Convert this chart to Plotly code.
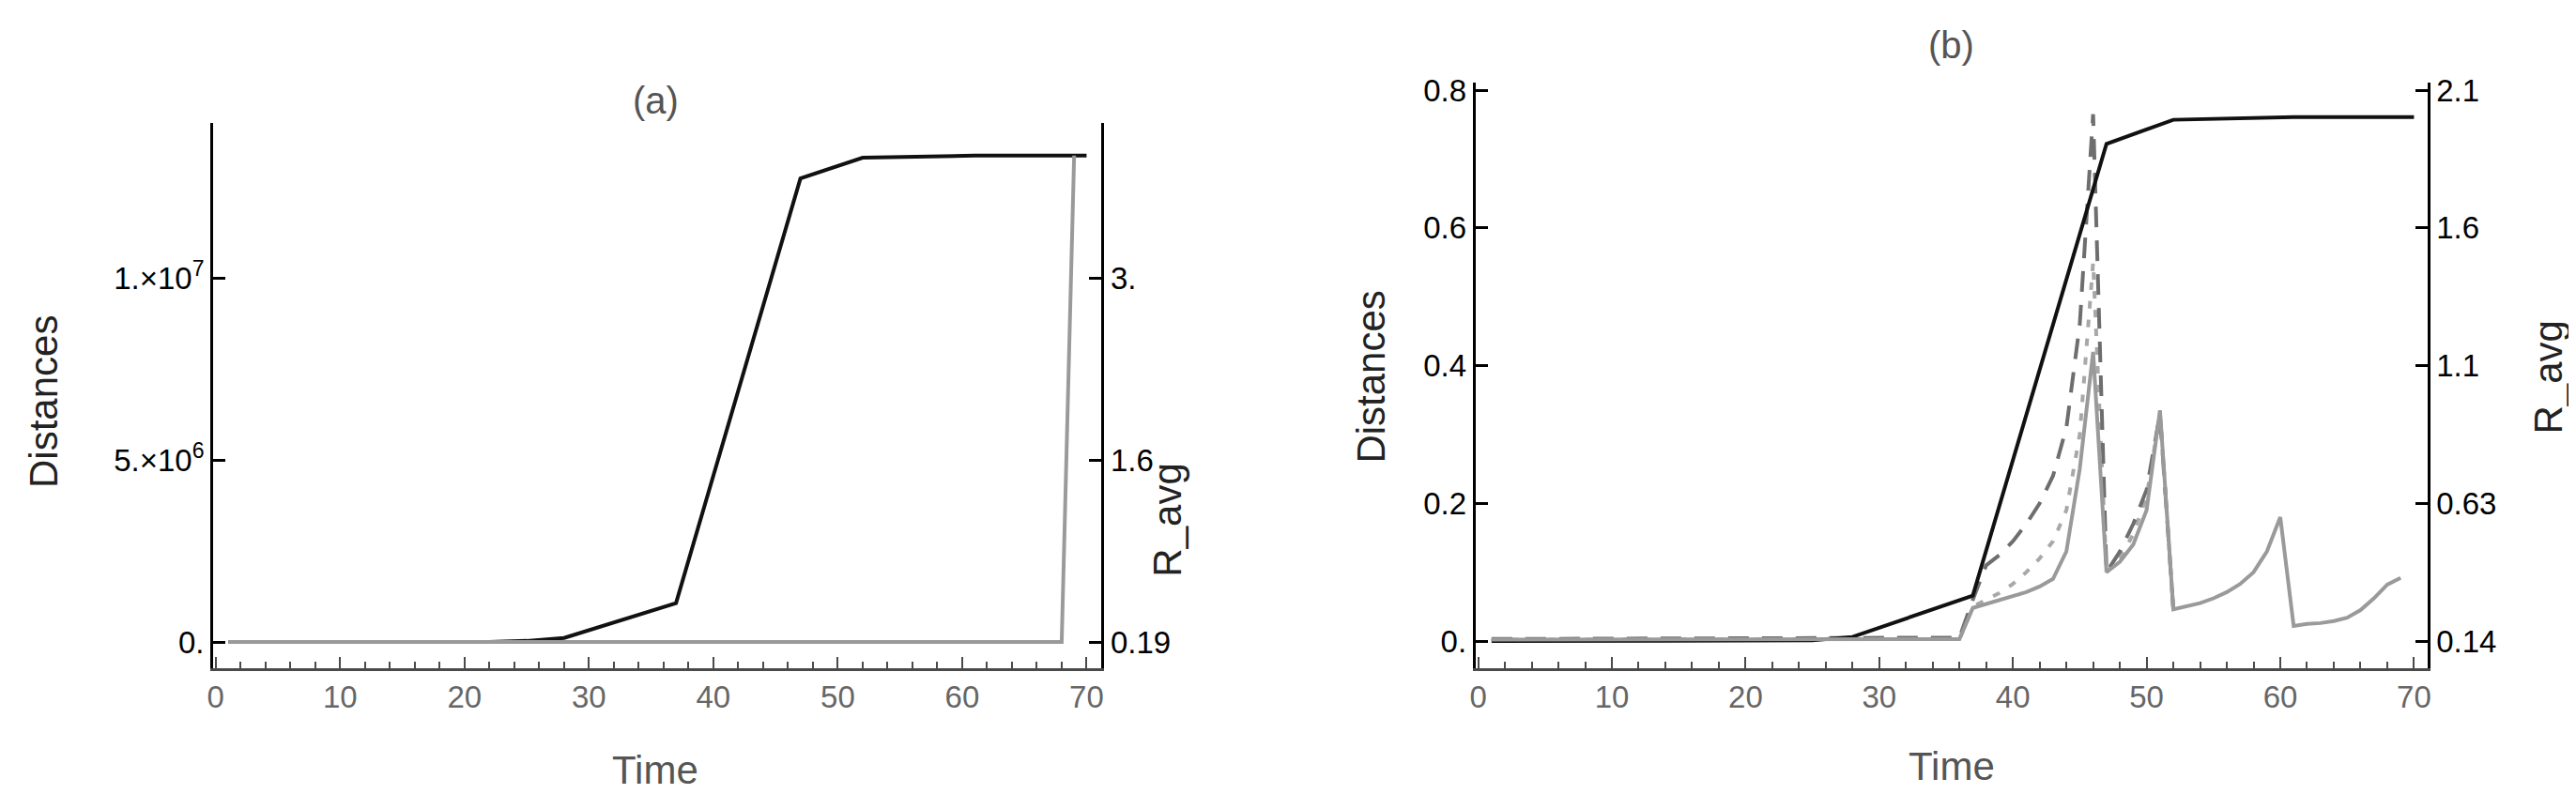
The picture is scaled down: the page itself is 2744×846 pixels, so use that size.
import plotly.graph_objects as go

W, H = 2744, 846
FONT = "Liberation Sans, Arial, sans-serif"

# ---------------- panel (a) ----------------
a_black_t = [1, 22, 25, 28, 37, 47, 52, 61, 70]
a_black_d = [0, 0, 3e4, 1.1e5, 1.07e6, 1.275e7, 1.332e7, 1.338e7, 1.338e7]

a_dash_t = [1, 68]
a_longdash_d = [0, 0]
a_shortdash_d = [0, 0]

a_ravg_t = [1, 68, 69]
a_ravg = [0.19, 0.19, 3.95]

# ---------------- panel (b) ----------------
b_black_t = [1, 25, 28, 37, 47, 52, 61, 70]
b_black_d = [0.0, 0.001, 0.006, 0.066, 0.722, 0.757, 0.761, 0.761]

b_dash_t = [1, 20, 33, 36, 37, 38, 39, 40, 41, 42, 43, 44, 45, 46, 47, 48, 49, 50, 51, 52]
b_longdash_d = [0.003, 0.004, 0.006, 0.005, 0.06, 0.11, 0.125, 0.145, 0.17, 0.2,
                0.24, 0.31, 0.46, 0.765, 0.1, 0.13, 0.17, 0.22, 0.33, 0.046]
b_shortdash_d = [0.002, 0.002, 0.003, 0.003, 0.05, 0.06, 0.07, 0.083, 0.1, 0.12,
                 0.145, 0.19, 0.3, 0.55, 0.1, 0.12, 0.155, 0.21, 0.33, 0.046]

b_ravg_t = [1, 36, 37, 38, 39, 40, 41, 42, 43, 44, 45, 46, 47, 48, 49, 50, 51, 52,
            53, 54, 55, 56, 57, 58, 59, 60, 61, 62, 63, 64, 65, 66, 67, 68, 69]
b_ravg = [0.145, 0.147, 0.258, 0.272, 0.285, 0.297, 0.314, 0.334, 0.361, 0.459,
          0.753, 1.169, 0.385, 0.422, 0.483, 0.606, 0.961, 0.253, 0.263, 0.275,
          0.292, 0.314, 0.343, 0.385, 0.459, 0.581, 0.194, 0.201, 0.204, 0.211,
          0.223, 0.250, 0.292, 0.341, 0.365]

# tick labels
x_ticks = [0, 10, 20, 30, 40, 50, 60, 70]
a_left_ticks = [0, 5e6, 1e7]
a_left_text = ["0.", "5.×10<sup>6</sup>", "1.×10<sup>7</sup>"]
a_right_ticks = [0.19, 1.595, 3.0]
a_right_text = ["0.19", "1.6", "3."]
b_left_ticks = [0, 0.2, 0.4, 0.6, 0.8]
b_left_text = ["0.", "0.2", "0.4", "0.6", "0.8"]
b_right_ticks = [0.14, 0.63, 1.12, 1.61, 2.10]
b_right_text = ["0.14", "0.63", "1.1", "1.6", "2.1"]

BLACK = "#111111"
LONG = "#6e6e6e"
SHORT = "#a8a8a8"
GRAY = "#9a9a9a"
LW = 4

fig = go.Figure()

# panel (a) traces
fig.add_trace(go.Scatter(x=a_ravg_t, y=a_ravg, mode="lines", line=dict(color=GRAY, width=LW),
                         xaxis="x", yaxis="y2"))
fig.add_trace(go.Scatter(x=a_dash_t, y=a_longdash_d, mode="lines",
                         line=dict(color="#444444", width=LW, dash="20px,20px"), xaxis="x", yaxis="y"))
fig.add_trace(go.Scatter(x=a_dash_t, y=a_shortdash_d, mode="lines",
                         line=dict(color="#777777", width=LW, dash="10px,30px"), xaxis="x", yaxis="y"))
fig.add_trace(go.Scatter(x=a_black_t, y=a_black_d, mode="lines", line=dict(color=BLACK, width=LW),
                         xaxis="x", yaxis="y"))

# panel (b) traces
fig.add_trace(go.Scatter(x=b_ravg_t, y=b_ravg, mode="lines", line=dict(color=GRAY, width=LW),
                         xaxis="x2", yaxis="y4"))
fig.add_trace(go.Scatter(x=b_dash_t, y=b_shortdash_d, mode="lines",
                         line=dict(color=SHORT, width=LW, dash="8px,12px"), xaxis="x2", yaxis="y3"))
fig.add_trace(go.Scatter(x=b_dash_t, y=b_longdash_d, mode="lines",
                         line=dict(color=LONG, width=LW, dash="22px,14px"), xaxis="x2", yaxis="y3"))
fig.add_trace(go.Scatter(x=b_black_t, y=b_black_d, mode="lines", line=dict(color=BLACK, width=LW),
                         xaxis="x2", yaxis="y3"))


def px_x(v):
    return v / W


def px_y(v):
    return 1 - v / H


xbase = dict(showline=True, linecolor="#4a4a4a", linewidth=3, ticks="inside", ticklen=12,
             tickwidth=2, tickcolor="#4a4a4a", tickvals=x_ticks,
             tickfont=dict(size=33, color="#666666", family=FONT),
             showgrid=False, zeroline=False,
             minor=dict(ticks="inside", ticklen=7, tickwidth=2, tickcolor="#4a4a4a",
                        dtick=2, tick0=0, showgrid=False))
ybase = dict(showline=True, linecolor="black", linewidth=3, ticks="inside", ticklen=13,
             tickwidth=3, tickcolor="black", tickfont=dict(size=33, color="black", family=FONT),
             showgrid=False, zeroline=False)

# y ranges from pixel positions
a_top, a_bot, a_zero = 114, 702, 674
a_per = 196 / 5e6
a_range = [-(a_bot - a_zero) / a_per, (a_zero - a_top) / a_per]
a_scale = 2.81e-7
a_r_range = [0.19 + a_scale * a_range[0], 0.19 + a_scale * a_range[1]]

b_top, b_bot, b_zero = 71, 702, 673
b_per = 742.5
b_range = [-(b_bot - b_zero) / b_per, (b_zero - b_top) / b_per]
b_r_range = [0.14 + 2.45 * b_range[0], 0.14 + 2.45 * b_range[1]]

fig.update_layout(
    width=W, height=H,
    paper_bgcolor="white", plot_bgcolor="white",
    margin=dict(l=0, r=0, t=0, b=0),
    showlegend=False,
    font=dict(family=FONT),
    xaxis=dict(xbase, domain=[px_x(213), px_x(1163)], range=[-0.2, 71.2], anchor="y"),
    yaxis=dict(ybase, domain=[px_y(a_bot), px_y(a_top)], range=a_range, anchor="x",
               tickvals=a_left_ticks, ticktext=a_left_text),
    yaxis2=dict(ybase, overlaying="y", side="right", anchor="x", range=a_r_range,
                tickvals=a_right_ticks, ticktext=a_right_text),
    xaxis2=dict(xbase, domain=[px_x(1563), px_x(2581)], range=[-0.2, 71.0], anchor="y3"),
    yaxis3=dict(ybase, domain=[px_y(b_bot), px_y(b_top)], range=b_range, anchor="x2",
                tickvals=b_left_ticks, ticktext=b_left_text),
    yaxis4=dict(ybase, overlaying="y3", side="right", anchor="x2", range=b_r_range,
                tickvals=b_right_ticks, ticktext=b_right_text),
)

labels = [
    ("(a)", 686, 90, 0, "#555555", 40),
    ("(b)", 2072, 30, 0, "#555555", 40),
    ("Time", 686, 812, 0, "#555555", 42),
    ("Time", 2072, 808, 0, "#555555", 42),
    ("Distances", 31, 415, -90, "#222222", 42),
    ("Distances", 1451, 388, -90, "#222222", 42),
    ("R_avg", 1234, 543, -90, "#222222", 42),
    ("R_avg", 2710, 389, -90, "#222222", 42),
]
for text, x, y, ang, col, size in labels:
    fig.add_annotation(text=text, x=px_x(x), y=px_y(y), xref="paper", yref="paper",
                       showarrow=False, textangle=ang, xanchor="center", yanchor="middle",
                       font=dict(size=size, color=col, family=FONT))

fig.write_html("out.html")
